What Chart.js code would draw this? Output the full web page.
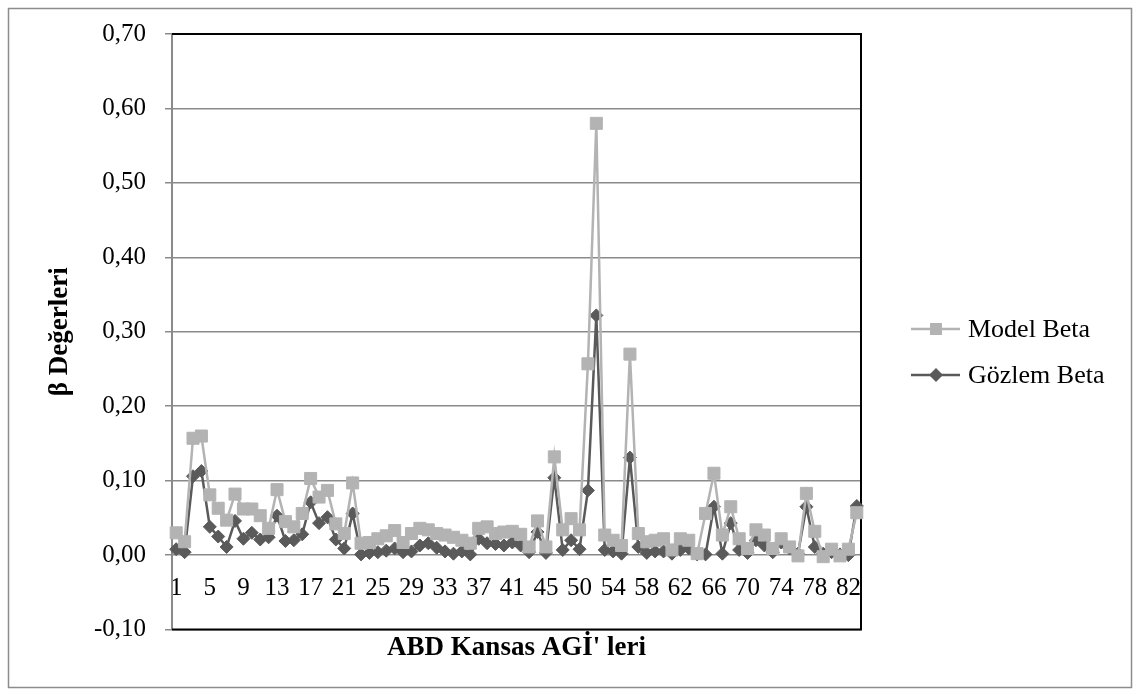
<!DOCTYPE html>
<html>
<head>
<meta charset="utf-8">
<script src="https://cdn.jsdelivr.net/npm/chart.js@4/dist/chart.umd.min.js"></script>
<style>
  html, body { margin: 0; padding: 0; background: #ffffff; }
  #wrap { width: 1140px; height: 696px; position: relative; }
</style>
</head>
<body>
<div id="wrap"><canvas id="c" width="1140" height="696"></canvas></div>
<script>
// Kansas network stations (labels as numbered in the study)
const categories = [
  '1','2','3','4','5','6','7','8','9','10','11','12','13','14','15','16','17','18','19','20',
  '21','22','23','24','25','26','27','28','29','30','31','32','33','34','35','36','37','38','39','40',
  '41','42','43','44','45','46','47','49','50','51','52','53','54','55','56','57','58','59','60','61',
  '62','63','64','65','66','67','68','69','70','71','72','73','74','75','76','77','78','79','80','81',
  '82','83'
];

const seriesNames = ['Model Beta', 'Gözlem Beta'];

const modelBeta = [
  0.030, 0.018, 0.157, 0.160, 0.081, 0.063, 0.047, 0.082, 0.062, 0.062,
  0.053, 0.036, 0.088, 0.045, 0.038, 0.056, 0.103, 0.078, 0.087, 0.042,
  0.029, 0.097, 0.016, 0.017, 0.022, 0.026, 0.033, 0.017, 0.029, 0.036,
  0.034, 0.029, 0.027, 0.024, 0.020, 0.016, 0.036, 0.038, 0.029, 0.031,
  0.032, 0.028, 0.011, 0.046, 0.011, 0.132, 0.034, 0.049, 0.034, 0.257,
  0.580, 0.027, 0.020, 0.013, 0.270, 0.029, 0.018, 0.020, 0.022, 0.007,
  0.022, 0.020, 0.002, 0.056, 0.110, 0.027, 0.065, 0.022, 0.009, 0.034,
  0.027, 0.009, 0.022, 0.011, -0.001, 0.083, 0.032, -0.002, 0.008, -0.001,
  0.008, 0.057
];

const gozlemBeta = [
  0.008, 0.004, 0.106, 0.113, 0.038, 0.025, 0.011, 0.046, 0.022, 0.030,
  0.021, 0.024, 0.053, 0.019, 0.020, 0.028, 0.071, 0.043, 0.051, 0.021,
  0.009, 0.056, 0.001, 0.003, 0.004, 0.006, 0.009, 0.004, 0.005, 0.013,
  0.016, 0.010, 0.005, 0.002, 0.005, 0.001, 0.022, 0.016, 0.015, 0.013,
  0.017, 0.013, 0.004, 0.031, 0.003, 0.104, 0.007, 0.020, 0.008, 0.087,
  0.322, 0.007, 0.005, 0.002, 0.131, 0.011, 0.003, 0.005, 0.005, 0.002,
  0.007, 0.009, 0.001, 0.001, 0.065, 0.002, 0.043, 0.007, 0.003, 0.020,
  0.013, 0.004, 0.017, 0.009, 0.002, 0.065, 0.011, 0.002, 0.004, 0.001,
  0.000, 0.066
];

const yTickValues = [-0.10, 0.00, 0.10, 0.20, 0.30, 0.40, 0.50, 0.60, 0.70];

const FONT = "'Liberation Serif', 'Times New Roman', serif";
const TICK_SIZE = 25;
const TITLE_SIZE = 27;
const LEGEND_SIZE = 26;
const MODEL_COLOR = '#b3b3b3';
const GOZLEM_COLOR = '#5a5a5a';
const GRID_COLOR = '#8a8a8a';

// white page with a thin grey frame around the whole chart
const framePlugin = {
  id: 'frame',
  beforeDraw(chart) {
    const ctx = chart.ctx;
    ctx.save();
    ctx.fillStyle = '#ffffff';
    ctx.fillRect(0, 0, chart.width, chart.height);
    ctx.strokeStyle = '#8c8c8c';
    ctx.lineWidth = 1.5;
    ctx.strokeRect(8.5, 8.5, chart.width - 17, chart.height - 17);
    ctx.restore();
  }
};

// black outline on the top, right and bottom of the plot area
const plotBorderPlugin = {
  id: 'plotBorder',
  beforeDatasetsDraw(chart) {
    const {ctx, chartArea: a} = chart;
    ctx.save();
    ctx.strokeStyle = '#000000';
    ctx.lineWidth = 2;
    ctx.beginPath();
    ctx.moveTo(a.left, a.top);
    ctx.lineTo(a.right, a.top);
    ctx.lineTo(a.right, a.bottom);
    ctx.lineTo(a.left, a.bottom);
    ctx.stroke();
    ctx.restore();
  }
};

// legend: line sample with its marker, then the series name
const lineLegendPlugin = {
  id: 'lineLegend',
  afterDraw(chart) {
    const ctx = chart.ctx;
    const x0 = 911, x1 = 960, mx = 936, tx = 968;
    const rows = [329, 375];
    ctx.save();
    chart.data.datasets.forEach((ds, i) => {
      const y = rows[i];
      ctx.strokeStyle = ds.borderColor;
      ctx.lineWidth = 2.5;
      ctx.beginPath();
      ctx.moveTo(x0, y);
      ctx.lineTo(x1, y);
      ctx.stroke();
      ctx.fillStyle = ds.pointBackgroundColor;
      ctx.beginPath();
      if (ds.pointStyle === 'rect') {
        ctx.rect(mx - 6, y - 6, 12, 12);
      } else {
        ctx.moveTo(mx, y - 7);
        ctx.lineTo(mx + 7, y);
        ctx.lineTo(mx, y + 7);
        ctx.lineTo(mx - 7, y);
        ctx.closePath();
      }
      ctx.fill();
      ctx.fillStyle = '#000000';
      ctx.font = LEGEND_SIZE + 'px ' + FONT;
      ctx.textAlign = 'left';
      ctx.textBaseline = 'middle';
      ctx.fillText(ds.label, tx, y + 1);
    });
    ctx.restore();
  }
};

new Chart(document.getElementById('c'), {
  type: 'line',
  data: {
    labels: categories,
    datasets: [
      {
        label: seriesNames[0],
        data: modelBeta,
        borderColor: MODEL_COLOR,
        backgroundColor: MODEL_COLOR,
        pointBackgroundColor: MODEL_COLOR,
        pointBorderColor: MODEL_COLOR,
        borderWidth: 2.5,
        pointStyle: 'rect',
        pointRadius: 8.5,
        pointBorderWidth: 1,
        tension: 0,
        clip: false
      },
      {
        label: seriesNames[1],
        data: gozlemBeta,
        borderColor: GOZLEM_COLOR,
        backgroundColor: GOZLEM_COLOR,
        pointBackgroundColor: GOZLEM_COLOR,
        pointBorderColor: GOZLEM_COLOR,
        borderWidth: 2.5,
        pointStyle: 'rectRot',
        pointRadius: 6.5,
        pointBorderWidth: 1,
        tension: 0,
        clip: false
      }
    ]
  },
  options: {
    responsive: false,
    devicePixelRatio: 1,
    animation: false,
    events: [],
    layout: { padding: { left: 0, top: 33, right: 279, bottom: 32 } },
    plugins: {
      legend: { display: false },
      tooltip: { enabled: false },
      title: {
        display: true,
        position: 'bottom',
        fullSize: false,
        text: "ABD Kansas AGİ' leri",
        color: '#000000',
        font: { family: FONT, size: TITLE_SIZE, weight: 'bold' },
        padding: { top: 2, bottom: 0 }
      }
    },
    scales: {
      x: {
        type: 'category',
        position: { y: 0 },
        offset: true,
        grid: { display: false, drawTicks: false },
        border: { display: false },
        ticks: {
          autoSkip: false,
          maxRotation: 0,
          minRotation: 0,
          padding: 18,
          color: '#000000',
          font: { family: FONT, size: TICK_SIZE },
          callback: (val, idx) => (idx % 4 === 0 ? categories[idx] : '')
        }
      },
      y: {
        min: -0.1,
        max: 0.7,
        afterBuildTicks: (scale) => { scale.ticks = yTickValues.map(v => ({ value: v })); },
        afterFit: (scale) => { scale.width = 172; },
        grid: { color: GRID_COLOR, lineWidth: 1.5, tickLength: 7, tickColor: GRID_COLOR },
        border: { display: true, color: GRID_COLOR, width: 2 },
        ticks: {
          padding: 19,
          color: '#000000',
          font: { family: FONT, size: TICK_SIZE },
          callback: (v) => Number(v).toFixed(2).replace('.', ',')
        },
        title: {
          display: true,
          text: 'β Değerleri',
          color: '#000000',
          font: { family: FONT, size: TITLE_SIZE, weight: 'bold' },
          padding: { top: 44, bottom: 0 }
        }
      }
    }
  },
  plugins: [framePlugin, plotBorderPlugin, lineLegendPlugin]
});
</script>
</body>
</html>
